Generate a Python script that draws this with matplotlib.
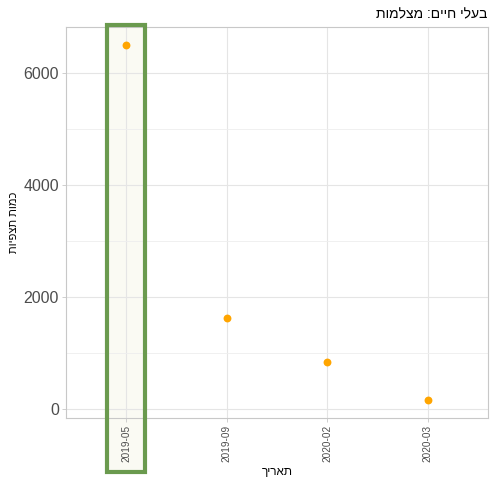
import matplotlib
matplotlib.use("Agg")
import matplotlib.pyplot as plt
import matplotlib.transforms as mtransforms
from matplotlib.patches import Rectangle
from matplotlib.ticker import MultipleLocator

plt.rcParams['font.family'] = ['Liberation Sans', 'DejaVu Sans']

dates = ["2019-05", "2019-09", "2020-02", "2020-03"]
counts = [6500, 1630, 840, 160]
highlight = "2019-05"

title = "בעלי חיים: מצלמות"
xlabel = "תאריך"
ylabel = "כמות תצפיות"

def vis(s):
    return s[::-1]

fig = plt.figure(figsize=(4.9, 4.79), dpi=100)
ax = fig.add_axes([66/490, 61/479, 422/490, 391/479])

x = list(range(1, len(dates) + 1))
ax.scatter(x, counts, s=32, color="#FFA500", zorder=3, linewidths=0)

ax.set_xlim(0.4, len(dates) + 0.6)
lo, hi = min(counts), max(counts)
pad = (hi - lo) * 0.05
ax.set_ylim(lo - pad, hi + pad)
ax.set_xticks(x)
ax.set_xticklabels(dates, rotation=90, fontsize=7.2, color="#4d4d4d")
ax.yaxis.set_major_locator(MultipleLocator(2000))
ax.yaxis.set_minor_locator(MultipleLocator(1000))
ax.tick_params(axis="y", labelsize=11.5, colors="#c8c8c8", labelcolor="#4d4d4d",
               length=3, width=0.6, pad=2)
ax.tick_params(axis="y", which="minor", length=0)
ax.tick_params(axis="x", length=3, width=0.6, colors="#c8c8c8", labelcolor="#4d4d4d", pad=2)
ax.grid(True, which="major", color="#e5e5e5", linewidth=0.8)
ax.grid(True, which="minor", axis="y", color="#eeeeee", linewidth=0.6)
ax.set_axisbelow(True)
for sp in ax.spines.values():
    sp.set_color("#c8c8c8")
    sp.set_linewidth(0.8)

ax.set_xlabel(vis(xlabel), fontsize=8.5, labelpad=3)
ax.set_ylabel(vis(ylabel), fontsize=8, labelpad=3)
fig.text(487/490, 1 - 14/479, vis(title), ha="right", va="center", fontsize=10)

# highlight box
hi_idx = dates.index(highlight) + 1
trans = mtransforms.blended_transform_factory(ax.transData, fig.transFigure)
rect = Rectangle((hi_idx - 0.19, 1 - 472/479), 0.38, (472 - 25)/479,
                 transform=trans, facecolor="#fafaf3",
                 edgecolor="none", clip_on=False, zorder=0.2)
ax.add_patch(rect)
rect2 = Rectangle((hi_idx - 0.19, 1 - 472/479), 0.38, (472 - 25)/479,
                  transform=trans, facecolor="none",
                  edgecolor="#6a9a4e", linewidth=3, clip_on=False, zorder=5)
fig.add_artist(rect2)

fig.savefig("out.png", dpi=100)
